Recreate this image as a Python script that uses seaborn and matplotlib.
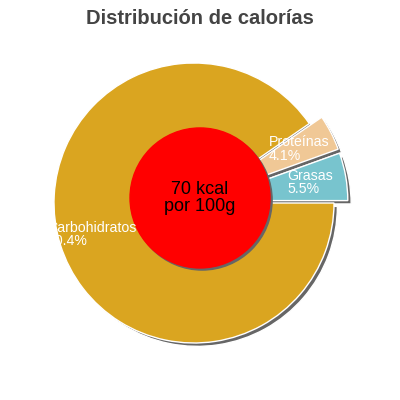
import matplotlib
matplotlib.use("Agg")
import matplotlib.pyplot as plt
import seaborn as sns

# Data
labels = ["Grasas", "Proteínas", "Carbohidratos"]
percents = [5.5, 4.1, 90.4]
colors = ["#78c4ce", "#f0c896", "#daa520"]
explode = [0.1, 0.1, 0.0]
center_text = "70 kcal\npor 100g"
title = "Distribución de calorías"

sns.set_theme(style="white")
plt.rcParams["font.family"] = ["Liberation Sans", "DejaVu Sans"]

fig = plt.figure(figsize=(4, 4), dpi=100)
ax = fig.add_axes([0, 0, 1, 1])
ax.set_aspect("equal")
ax.axis("off")

# gray drop shadow, shifted right/down
shadow_dx, shadow_dy = 0.024, -0.024
ax.pie(percents, colors=["#666666"] * 3, explode=explode, startangle=0,
       counterclock=True, center=(shadow_dx, shadow_dy))

wedges, texts = ax.pie(
    percents, colors=colors, explode=explode, startangle=0, counterclock=True,
    labels=[f"{n}\n{p}%" for n, p in zip(labels, percents)],
    labeldistance=0.745,
    textprops=dict(color="white", fontsize=10.2),
)
for t in texts:
    t.set_ha("center")
    t.set_va("center")
    t.set_multialignment("left")
    t.set_linespacing(0.95)
    t.set_zorder(5)
# big slice label sits a little further out
x, y = texts[2].get_position()
texts[2].set_position((x * 1.02, y * 1.02))

# centre disc with the energy value
cx, cy, r = 0.043, 0.036, 0.5
ax.add_patch(plt.Circle((cx + 0.015, cy - 0.015), r, color="#666666", zorder=3))
ax.add_patch(plt.Circle((cx, cy), r, color="#ff0000", zorder=4))
ax.text(cx, cy, center_text, ha="center", va="center", fontsize=13,
        color="black", zorder=6, linespacing=1.0)

scale = 140
ax.set_xlim(-194 / scale, 206 / scale)
ax.set_ylim(-197 / scale, 203 / scale)

fig.text(0.5, 1 - 19 / 400, title, ha="center", va="center",
         fontsize=14.5, fontweight="bold", color="#444444")

fig.savefig("out.png", dpi=100)
